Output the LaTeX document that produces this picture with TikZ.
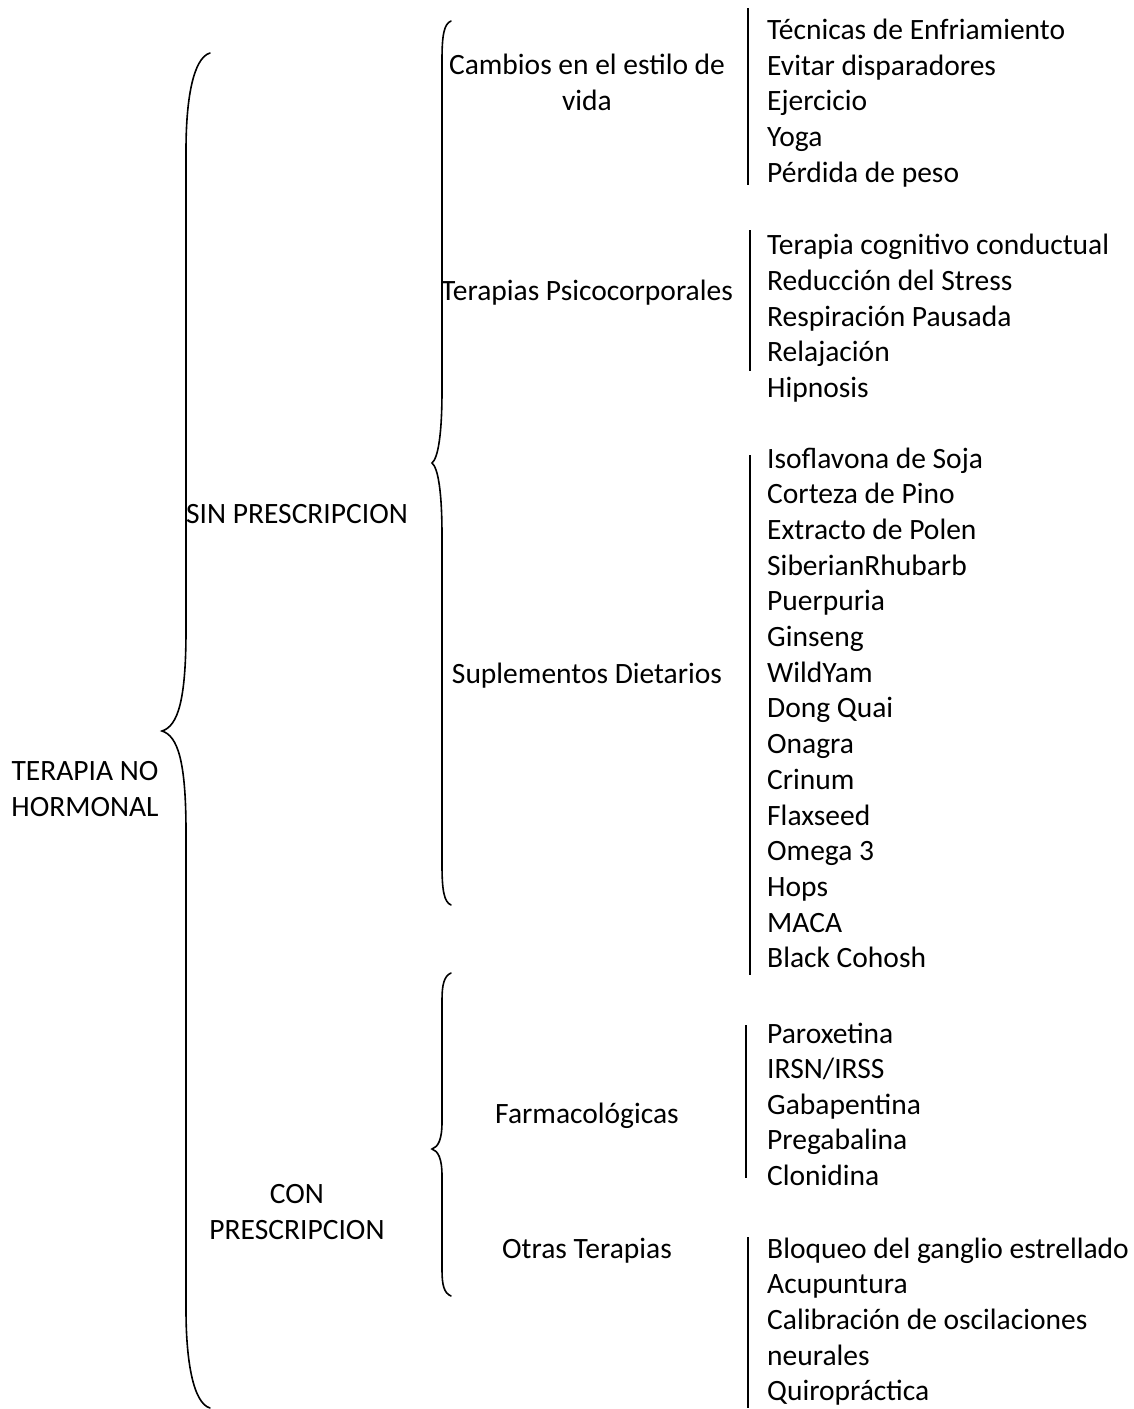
\documentclass[tikz,border=0pt]{standalone}
\usepackage{fontspec}
\setmainfont{Carlito}
\begin{document}
\begin{tikzpicture}[x=1pt,y=-1pt,
  lbl/.style={inner sep=0pt,anchor=base,align=center},
  leaf/.style={inner sep=0pt,anchor=base west},
  bar/.style={line width=1.5pt},
  brc/.style={line width=1.6pt,line cap=round}]
\fontsize{29.5}{35.7}\selectfont
\useasboundingbox (0,0) rectangle (1134,1409);
% main brace
\draw[brc] (210,53) .. controls (193,58) and (186,100) .. (186,150) -- (186,630)
  .. controls (186,700) and (178,726) .. (162,731)
  .. controls (178,736) and (186,762) .. (186,832) -- (186,1310)
  .. controls (186,1360) and (193,1403) .. (210,1408);
% SIN brace
\draw[brc] (451,21) .. controls (444,24) and (442,35) .. (442,60) -- (442,390)
  .. controls (442,435) and (438,458) .. (432,463)
  .. controls (438,468) and (442,491) .. (442,536) -- (442,865)
  .. controls (442,890) and (444,902) .. (451,905);
% CON brace
\draw[brc] (451,973) .. controls (444,976) and (442,985) .. (442,1000) -- (442,1122)
  .. controls (442,1140) and (438,1147) .. (432,1149)
  .. controls (438,1151) and (442,1158) .. (442,1176) -- (442,1270)
  .. controls (442,1285) and (444,1293) .. (451,1296);
% leaf bars
\draw[bar] (748,8) -- (748,185);
\draw[bar] (750,230) -- (750,371);
\draw[bar] (750,455) -- (750,975);
\draw[bar] (746,1025) -- (746,1178);
\draw[bar] (748,1237) -- (748,1408);
% left labels
\node[lbl] (root) at (85,816) {TERAPIA NO\\HORMONAL};
\node[lbl] (sin) at (297,523) {SIN PRESCRIPCION};
\node[lbl] (con) at (297,1239) {CON\\PRESCRIPCION};
% middle labels
\node[lbl] (cam) at (587,110) {Cambios en el estilo de\\vida};
\node[lbl] (psi) at (587,300) {Terapias Psicocorporales};
\node[lbl] (sup) at (587,683) {Suplementos Dietarios};
\node[lbl] (far) at (587,1123) {Farmacológicas};
\node[lbl] (otr) at (587,1258) {Otras Terapias};
% group 1
\node[leaf] (a1) at (767,39) {Técnicas de Enfriamiento};
\node[leaf] (a2) at (767,75) {Evitar disparadores};
\node[leaf] (a3) at (767,110) {Ejercicio};
\node[leaf] (a4) at (767,146) {Yoga};
\node[leaf] (a5) at (767,182) {Pérdida de peso};
% group 2
\node[leaf] (b1) at (767,254) {Terapia cognitivo conductual};
\node[leaf] (b2) at (767,290) {Reducción del Stress};
\node[leaf] (b3) at (767,326) {Respiración Pausada};
\node[leaf] (b4) at (767,361) {Relajación};
\node[leaf] (b5) at (767,397) {Hipnosis};
% group 3
\foreach \t [count=\i from 0] in {Isoflavona de Soja,Corteza de Pino,Extracto de Polen,SiberianRhubarb,Puerpuria,Ginseng,WildYam,Dong Quai,Onagra,Crinum,Flaxseed,Omega 3,Hops,MACA,Black Cohosh}
  \node[leaf] (c\i) at (767,{468+35.71*\i}) {\t};
% group 4
\node[leaf] (d1) at (767,1043) {Paroxetina};
\node[leaf] (d2) at (767,1078) {IRSN/IRSS};
\node[leaf] (d3) at (767,1114) {Gabapentina};
\node[leaf] (d4) at (767,1149) {Pregabalina};
\node[leaf] (d5) at (767,1185) {Clonidina};
% group 5
\node[leaf] (e1) at (767,1258) {Bloqueo del ganglio estrellado};
\node[leaf] (e2) at (767,1293) {Acupuntura};
\node[leaf] (e3) at (767,1329) {Calibración de oscilaciones};
\node[leaf] (e4) at (767,1365) {neurales};
\node[leaf] (e5) at (767,1400) {Quiropráctica};
\end{tikzpicture}
\end{document}
